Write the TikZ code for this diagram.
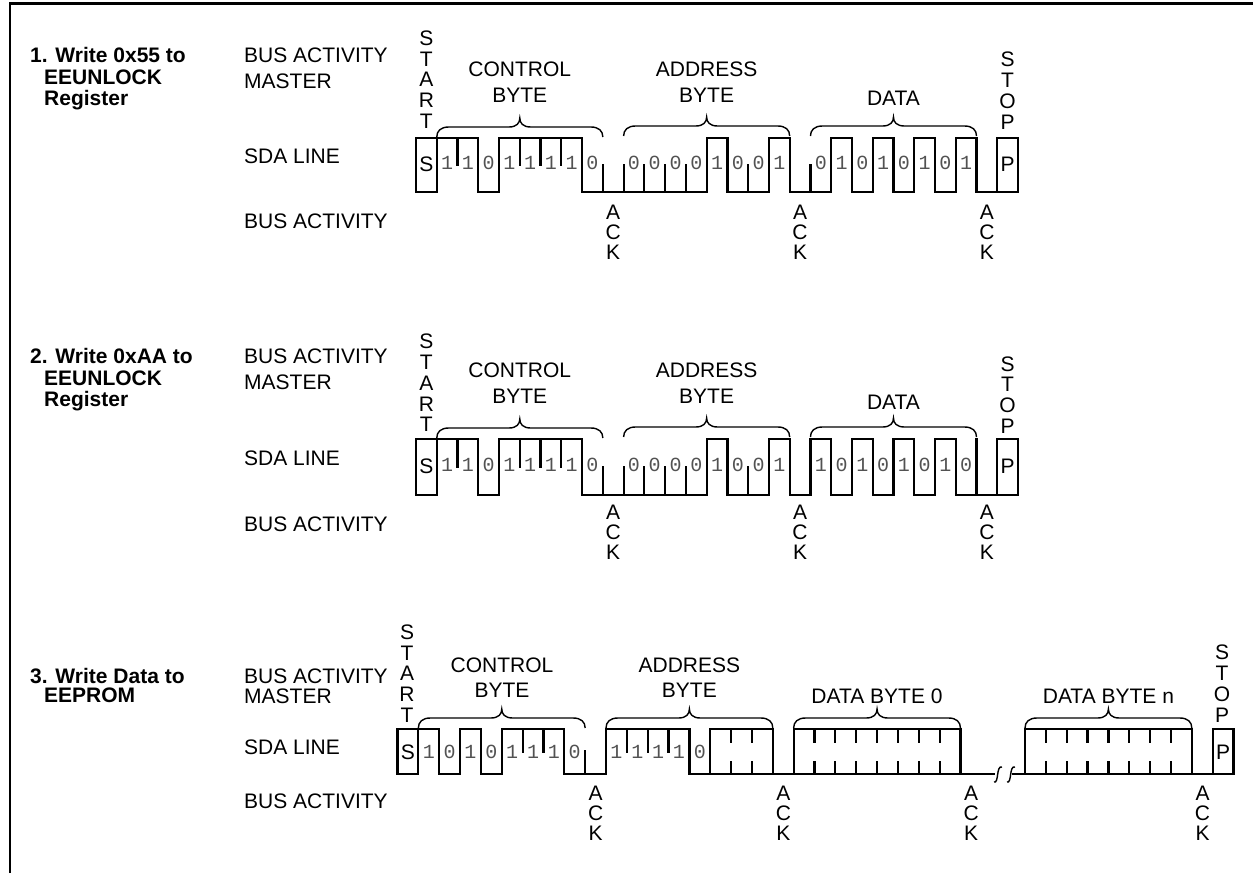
\documentclass[tikz,border=0pt]{standalone}
\usepackage{fontspec}
\setmainfont{Liberation Sans}
\newfontfamily\bitfont{Liberation Mono}

\tikzset{
  wv/.style={line width=2.2pt, line cap=rect},
  brc/.style={line width=1.4pt},
  lbl/.style={font=\fontsize{21}{21}\selectfont, inner sep=0pt, anchor=base west},
  blbl/.style={font=\fontsize{21}{21}\selectfont\bfseries, inner sep=0pt, anchor=base west},
  clbl/.style={font=\fontsize{21}{21}\selectfont, inner sep=0pt, anchor=base},
  vlet/.style={font=\fontsize{21}{20.8}\selectfont, align=center, inner sep=0pt},
  acklbl/.style={font=\fontsize{21}{20}\selectfont, align=center, inner sep=0pt},
  bit/.style={font=\bitfont\fontsize{20}{20}\selectfont, text=black!68, inner sep=0pt},
  boxlbl/.style={font=\fontsize{21}{21}\selectfont, inner sep=0pt},
  brk/.style={line width=1.4pt},
}

% x0, width, hi, lo, initial level, levels (0 low, 1 high, 2 box)
\newcommand{\sdawave}[6]{%
  \foreach \L [count=\k, remember=\L as \Lp (initially #5)] in {#6} {
    \pgfmathsetmacro{\xa}{#1+\k*#2}
    \pgfmathsetmacro{\xb}{#1+(\k+1)*#2}
    \pgfmathsetmacro{\ym}{(#3+#4)/2}
    \ifnum\L=0\relax \draw[wv] (\xa,#4) -- (\xb,#4); \fi
    \ifnum\L=1\relax \draw[wv] (\xa,#3) -- (\xb,#3); \fi
    \ifnum\L=2\relax \draw[wv] (\xa,#3) -- (\xb,#3); \draw[wv] (\xa,#4) -- (\xb,#4); \fi
    \ifnum\L=\Lp\relax
      \ifnum\L=0\relax \draw[wv] (\xa,#4) -- (\xa,\ym); \fi
      \ifnum\L=1\relax \draw[wv] (\xa,#3) -- (\xa,\ym); \fi
      \ifnum\L=2\relax \draw[wv] (\xa,#3) -- ++(0,13); \draw[wv] (\xa,#4) -- ++(0,-12); \fi
    \else
      \draw[wv] (\xa,#3) -- (\xa,#4);
    \fi
  }
}

% x0, width, y, first slot, digits, name prefix
\newcommand{\bitrow}[6]{%
  \foreach \d [count=\i] in {#5} {
    \pgfmathsetmacro{\xc}{#1+(#4+\i-0.5)*#2}
    \node[bit] (#6\i) at (\xc,#3) {\d};
  }
}

% x1, x2, y (ends)
\newcommand{\cbrace}[3]{%
  \draw[brc] (#1,#3) .. controls (#1,#3-6) and (#1+4,#3-10) .. (#1+12,#3-10)
    -- ({(#1+#2)/2-11},#3-10) .. controls ({(#1+#2)/2-3},#3-10) and ({(#1+#2)/2},#3-14) .. ({(#1+#2)/2},#3-19)
    .. controls ({(#1+#2)/2},#3-14) and ({(#1+#2)/2+3},#3-10) .. ({(#1+#2)/2+11},#3-10)
    -- (#2-12,#3-10) .. controls (#2-4,#3-10) and (#2,#3-6) .. (#2,#3);
}

\begin{document}
\begin{tikzpicture}[x=1pt,y=-1pt]
\useasboundingbox (0,0) rectangle (1253,873);

% frame
\draw[line width=2.6pt] (10,873) -- (10,3.5) -- (1253,3.5);

%================ Panel 1 ================
\node[blbl] (t1a) at (30,62) {1. Write 0x55 to};
\node[blbl] (t1b) at (44,84) {EEUNLOCK};
\node[blbl] (t1c) at (44,105) {Register};
\node[lbl] (m1a) at (244,62) {BUS ACTIVITY};
\node[lbl] (m1b) at (244,88) {MASTER};
\node[lbl] (s1) at (244,163) {SDA LINE};
\node[lbl] (b1) at (244,228) {BUS ACTIVITY};

\draw[wv] (416,138) rectangle (436.76,192);
\node[boxlbl] (S1) at (426.4,164) {S};
\sdawave{416}{20.76}{138}{192}{1}{1,1,0,1,1,1,1,0, 0, 0,0,0,0,1,0,0,1, 0, 0,1,0,1,0,1,0,1, 0}
\draw[wv] (997.3,138) rectangle (1018,192);
\node[boxlbl] (P1) at (1007.6,164) {P};

\bitrow{416}{20.76}{163}{1}{1,1,0,1,1,1,1,0}{p1c}
\bitrow{416}{20.76}{163}{10}{0,0,0,0,1,0,0,1}{p1a}
\bitrow{416}{20.76}{163}{19}{0,1,0,1,0,1,0,1}{p1d}

\cbrace{436.76}{602.84}{137}
\cbrace{623.6}{789.68}{136}
\cbrace{810.44}{976.52}{136}
\node[clbl] (c1a) at (519.8,76.5) {CONTROL};
\node[clbl] (c1b) at (519.8,102.5) {BYTE};
\node[clbl] (a1a) at (706.6,76.5) {ADDRESS};
\node[clbl] (a1b) at (706.6,102.5) {BYTE};
\node[clbl] (d1a) at (893.5,105.5) {DATA};

\node[vlet] (start1) at (426.4,79.5) {S\\T\\A\\R\\T};
\node[vlet] (stop1) at (1007.6,90.5) {S\\T\\O\\P};
\node[acklbl] (ack1a) at (613.2,232.5) {A\\C\\K};
\node[acklbl] (ack1b) at (800.0,232.5) {A\\C\\K};
\node[acklbl] (ack1c) at (986.9,232.5) {A\\C\\K};

%================ Panel 2 ================
\node[blbl] (t2a) at (30,363) {2. Write 0xAA to};
\node[blbl] (t2b) at (44,385) {EEUNLOCK};
\node[blbl] (t2c) at (44,406) {Register};
\node[lbl] (m2a) at (244,363) {BUS ACTIVITY};
\node[lbl] (m2b) at (244,389) {MASTER};
\node[lbl] (s2) at (244,465) {SDA LINE};
\node[lbl] (b2) at (244,531) {BUS ACTIVITY};

\draw[wv] (416,439) rectangle (436.76,495);
\node[boxlbl] (S2) at (426.4,466) {S};
\sdawave{416}{20.76}{439}{495}{1}{1,1,0,1,1,1,1,0, 0, 0,0,0,0,1,0,0,1, 0, 1,0,1,0,1,0,1,0, 0}
\draw[wv] (976.52,439) -- (976.52,495);
\draw[wv] (997.3,439) rectangle (1018,495);
\node[boxlbl] (P2) at (1007.6,466) {P};

\bitrow{416}{20.76}{465}{1}{1,1,0,1,1,1,1,0}{p2c}
\bitrow{416}{20.76}{465}{10}{0,0,0,0,1,0,0,1}{p2a}
\bitrow{416}{20.76}{465}{19}{1,0,1,0,1,0,1,0}{p2d}

\cbrace{436.76}{602.84}{438}
\cbrace{623.6}{789.68}{437}
\cbrace{810.44}{976.52}{437}
\node[clbl] (c2a) at (519.8,377) {CONTROL};
\node[clbl] (c2b) at (519.8,403) {BYTE};
\node[clbl] (a2a) at (706.6,377) {ADDRESS};
\node[clbl] (a2b) at (706.6,403) {BYTE};
\node[clbl] (d2a) at (893.5,409) {DATA};

\node[vlet] (start2) at (426.4,383) {S\\T\\A\\R\\T};
\node[vlet] (stop2) at (1007.6,395) {S\\T\\O\\P};
\node[acklbl] (ack2a) at (613.2,532) {A\\C\\K};
\node[acklbl] (ack2b) at (800.0,532) {A\\C\\K};
\node[acklbl] (ack2c) at (986.9,532) {A\\C\\K};

%================ Panel 3 ================
\node[blbl] (t3a) at (30,683) {3. Write Data to};
\node[blbl] (t3b) at (44,702) {EEPROM};
\node[lbl] (m3a) at (244,683) {BUS ACTIVITY};
\node[lbl] (m3b) at (244,703) {MASTER};
\node[lbl] (s3) at (244,754) {SDA LINE};
\node[lbl] (b3) at (244,808) {BUS ACTIVITY};

\draw[wv] (397.5,729) rectangle (418.35,774);
\node[boxlbl] (S3) at (407.9,752) {S};
\sdawave{397.5}{20.85}{729}{774}{1}{1,0,1,0,1,1,1,0, 0, 1,1,1,1,0,2,2,2, 0, 2,2,2,2,2,2,2,2, 0}
\draw[wv] (981.3,774) -- (994,774);
\draw[brk] (994,782) .. controls (999,784) and (996,765) .. (1002,767);
\draw[brk] (1007,782) .. controls (1012,784) and (1009,765) .. (1015,767);
\draw[wv] (1013,774) -- (1025,774);
\sdawave{1004.15}{20.85}{729}{774}{0}{2,2,2,2,2,2,2,2, 0}
\draw[wv] (1212.65,729) rectangle (1233.5,774);
\node[boxlbl] (P3) at (1223,752) {P};

\bitrow{397.5}{20.85}{752}{1}{1,0,1,0,1,1,1,0}{p3c}
\bitrow{397.5}{20.85}{752}{10}{1,1,1,1,0}{p3a}

\cbrace{418.35}{585.15}{728}
\cbrace{606}{772.8}{728}
\cbrace{793.65}{960.45}{728}
\cbrace{1025}{1191.8}{728}
\node[clbl] (c3a) at (502,672.5) {CONTROL};
\node[clbl] (c3b) at (502,697.5) {BYTE};
\node[clbl] (a3a) at (689.4,672.5) {ADDRESS};
\node[clbl] (a3b) at (689.4,697.5) {BYTE};
\node[clbl] (d3a) at (877,703.5) {DATA BYTE 0};
\node[clbl] (d3b) at (1108.4,703.5) {DATA BYTE n};

\node[vlet] (start3) at (407,673.5) {S\\T\\A\\R\\T};
\node[vlet] (stop3) at (1222,683.5) {S\\T\\O\\P};
\node[acklbl] (ack3a) at (595.6,813.5) {A\\C\\K};
\node[acklbl] (ack3b) at (783.4,813.5) {A\\C\\K};
\node[acklbl] (ack3c) at (971.1,813.5) {A\\C\\K};
\node[acklbl] (ack3d) at (1202.5,813.5) {A\\C\\K};
\end{tikzpicture}
\end{document}
